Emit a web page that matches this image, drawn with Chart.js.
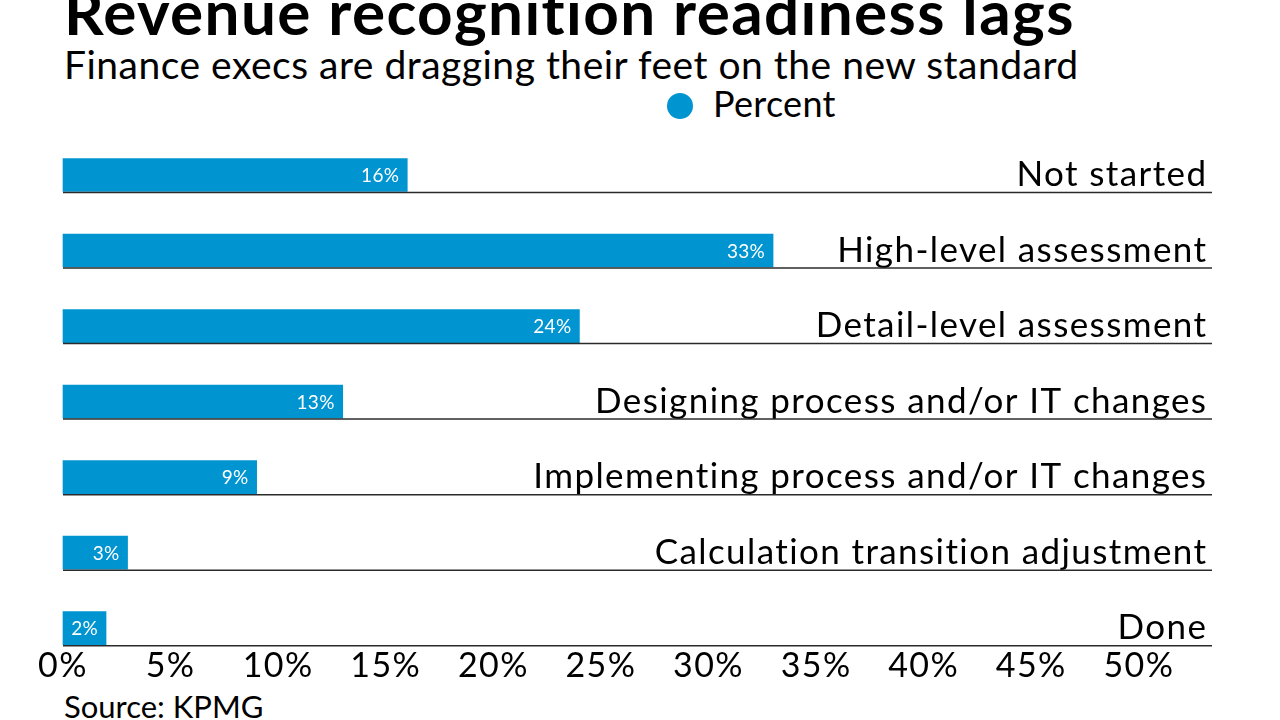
<!DOCTYPE html>
<html>
<head>
<meta charset="utf-8">
<script src="https://cdn.jsdelivr.net/npm/chart.js@4/dist/chart.umd.min.js"></script>
<style>
  html, body { margin: 0; padding: 0; background: #fff; }
  body { width: 1280px; height: 720px; position: relative; overflow: hidden; font-family: Lato, sans-serif; color: #000; }
  .txt { position: absolute; white-space: nowrap; line-height: 1.2; }
  #title { left: 64px; top: -26px; font-size: 62px; font-weight: 700; letter-spacing: 1.4px; }
  #subtitle { left: 64px; top: 41px; font-size: 39px; letter-spacing: 0.5px; }
  #legend { left: 667px; top: 82px; font-size: 36px; letter-spacing: 0.3px; }
  #legend .dot { display: inline-block; width: 26px; height: 26px; border-radius: 50%; background: #0094d0; margin-right: 20px; vertical-align: -2px; }
  #source { left: 64px; top: 688px; font-size: 31px; }
  #chart-wrap { position: absolute; left: 0; top: 0; width: 1280px; height: 720px; }
</style>
</head>
<body>
<div class="txt" id="title">Revenue recognition readiness lags</div>
<div class="txt" id="subtitle">Finance execs are dragging their feet on the new standard</div>
<div class="txt" id="legend"><span class="dot"></span>Percent</div>
<div class="txt" id="source">Source: KPMG</div>
<div id="chart-wrap"><canvas id="readinessChart" width="1280" height="720"></canvas></div>

<script>
// --- DONNEES ---
const categories = [
    "Not started",
    "High-level assessment",
    "Detail-level assessment",
    "Designing process and/or IT changes",
    "Implementing process and/or IT changes",
    "Calculation transition adjustment",
    "Done"
];
const percentValues = [16, 33, 24, 13, 9, 3, 2];
const xTickValues = [0, 5, 10, 15, 20, 25, 30, 35, 40, 45, 50];

const BAR_COLOR = '#0094d0';
const FONT = 'Lato, sans-serif';

// Espacement des lettres du canvas (le contexte est remis a zero au redimensionnement)
const canvasSpacing = {
    id: 'canvasSpacing',
    beforeDraw(chart) {
        chart.ctx.letterSpacing = '1.4px';
    }
};

// Lignes sous chaque barre + etiquettes de valeur dans la barre
const rowRules = {
    id: 'rowRules',
    afterDatasetsDraw(chart) {
        const { ctx, chartArea } = chart;
        const meta = chart.getDatasetMeta(0);
        ctx.save();
        ctx.letterSpacing = '0.3px';
        meta.data.forEach((bar, i) => {
            const { x, y, height } = bar.getProps(['x', 'y', 'height'], true);
            const lineY = y + height / 2 + 1;
            ctx.strokeStyle = '#2b2b2b';
            ctx.lineWidth = 1.5;
            ctx.beginPath();
            ctx.moveTo(chartArea.left, lineY);
            ctx.lineTo(chartArea.right, lineY);
            ctx.stroke();

            ctx.fillStyle = '#fff';
            ctx.font = '19px ' + FONT;
            ctx.textAlign = 'right';
            ctx.textBaseline = 'middle';
            ctx.fillText(percentValues[i] + '%', x - 8, y + 1);
        });
        ctx.restore();
    }
};

const ctx = document.getElementById('readinessChart').getContext('2d');
new Chart(ctx, {
    type: 'bar',
    data: {
        labels: categories,
        datasets: [{
            label: 'Percent',
            data: percentValues,
            backgroundColor: BAR_COLOR,
            borderWidth: 0,
            barThickness: 33,
            clip: false
        }]
    },
    options: {
        indexAxis: 'y',
        responsive: false,
        animation: false,
        layout: { padding: { left: 63, right: 68, top: 175, bottom: 17 } },
        scales: {
            x: {
                min: 0,
                max: 53.4,
                afterBuildTicks: (scale) => {
                    scale.ticks = xTickValues.map(v => ({ value: v }));
                },
                grid: { display: false, drawTicks: false },
                border: { display: false },
                ticks: {
                    padding: 17,
                    color: '#000',
                    font: { family: FONT, size: 34 },
                    callback: v => v + '%'
                }
            },
            y: {
                position: 'right',
                offset: false,
                afterFit: (scale) => { scale.width = 0; },
                grid: { display: false, drawTicks: false },
                border: { display: false },
                ticks: {
                    mirror: true,
                    padding: -4.6,
                    autoSkip: false,
                    color: '#000',
                    font: { family: FONT, size: 35 }
                }
            }
        },
        plugins: {
            legend: { display: false },
            tooltip: { enabled: false }
        }
    },
    plugins: [canvasSpacing, rowRules]
});
</script>
</body>
</html>
